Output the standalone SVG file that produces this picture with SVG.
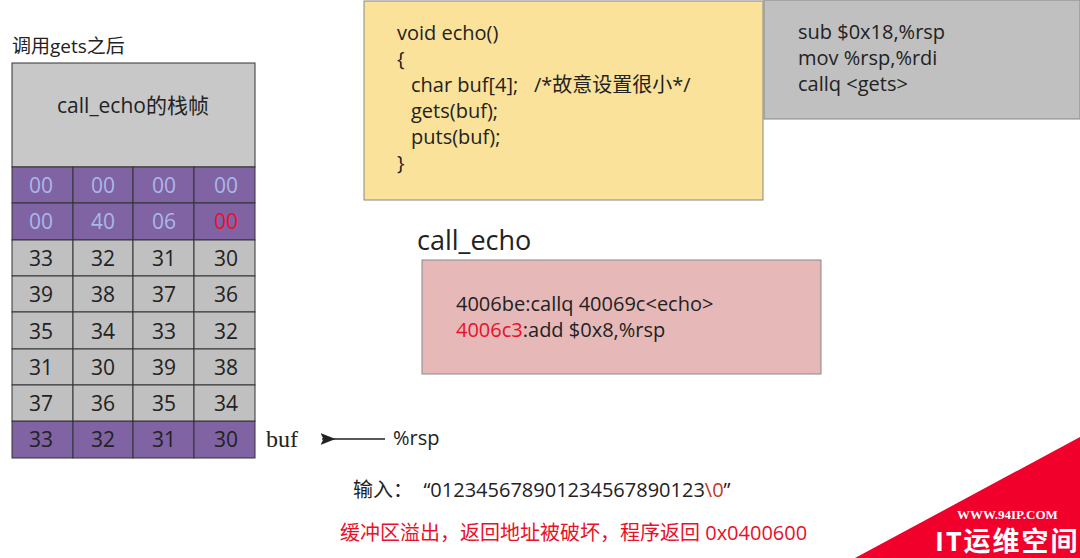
<svg xmlns="http://www.w3.org/2000/svg" width="1080" height="558" viewBox="0 0 1080 558">
<style>
text{font-family:"Open Sans","Noto Sans CJK SC",sans-serif;fill:#222}
.c{font-size:21px;text-anchor:middle}
.lb{fill:#a9b8e8}
.g rect{fill:#c0c0c0;stroke:#333;stroke-width:1}
.p rect{fill:#8063a3;stroke:#333;stroke-width:1}
.code{font-size:20px}
</style>
<defs><marker id="ah" markerWidth="10" markerHeight="8" refX="9" refY="4" orient="auto"><path d="M0,4L10,0L8,4L10,8Z" fill="#222"/></marker></defs>
<rect width="1080" height="558" fill="#fff"/>
<text x="12" y="53" font-size="19">调用gets之后</text>
<g id="frame"><rect x="12" y="63" width="243" height="104" fill="#c8c8c8" stroke="#333"/><text x="133" y="113" font-size="21" text-anchor="middle">call_echo的栈帧</text></g>
<g id="stack">
<g class="p">
<rect x="12" y="167" width="61" height="36"/><rect x="73" y="167" width="60" height="36"/><rect x="133" y="167" width="61" height="36"/><rect x="194" y="167" width="61" height="36"/>
<rect x="12" y="203" width="61" height="37"/><rect x="73" y="203" width="60" height="37"/><rect x="133" y="203" width="61" height="37"/><rect x="194" y="203" width="61" height="37"/>
<rect x="12" y="421" width="61" height="37"/><rect x="73" y="421" width="60" height="37"/><rect x="133" y="421" width="61" height="37"/><rect x="194" y="421" width="61" height="37"/>
</g>
<g class="g">
<rect x="12" y="240" width="61" height="36"/><rect x="73" y="240" width="60" height="36"/><rect x="133" y="240" width="61" height="36"/><rect x="194" y="240" width="61" height="36"/>
<rect x="12" y="276" width="61" height="36"/><rect x="73" y="276" width="60" height="36"/><rect x="133" y="276" width="61" height="36"/><rect x="194" y="276" width="61" height="36"/>
<rect x="12" y="312" width="61" height="37"/><rect x="73" y="312" width="60" height="37"/><rect x="133" y="312" width="61" height="37"/><rect x="194" y="312" width="61" height="37"/>
<rect x="12" y="349" width="61" height="36"/><rect x="73" y="349" width="60" height="36"/><rect x="133" y="349" width="61" height="36"/><rect x="194" y="349" width="61" height="36"/>
<rect x="12" y="385" width="61" height="36"/><rect x="73" y="385" width="60" height="36"/><rect x="133" y="385" width="61" height="36"/><rect x="194" y="385" width="61" height="36"/>
</g>
<text class="c lb" x="41" y="193">00</text><text class="c lb" x="103" y="193">00</text><text class="c lb" x="164" y="193">00</text><text class="c lb" x="226" y="193">00</text>
<text class="c lb" x="41" y="229">00</text><text class="c lb" x="103" y="229">40</text><text class="c lb" x="164" y="229">06</text><text class="c" x="226" y="229" style="fill:#e8102a">00</text>
<text class="c" x="41" y="266">33</text><text class="c" x="103" y="266">32</text><text class="c" x="164" y="266">31</text><text class="c" x="226" y="266">30</text>
<text class="c" x="41" y="302">39</text><text class="c" x="103" y="302">38</text><text class="c" x="164" y="302">37</text><text class="c" x="226" y="302">36</text>
<text class="c" x="41" y="339">35</text><text class="c" x="103" y="339">34</text><text class="c" x="164" y="339">33</text><text class="c" x="226" y="339">32</text>
<text class="c" x="41" y="375">31</text><text class="c" x="103" y="375">30</text><text class="c" x="164" y="375">39</text><text class="c" x="226" y="375">38</text>
<text class="c" x="41" y="411">37</text><text class="c" x="103" y="411">36</text><text class="c" x="164" y="411">35</text><text class="c" x="226" y="411">34</text>
<text class="c" x="41" y="447">33</text><text class="c" x="103" y="447">32</text><text class="c" x="164" y="447">31</text><text class="c" x="226" y="447">30</text>
</g>
<text x="266" y="447" font-size="24" style="font-family:'Liberation Serif',serif">buf</text>
<g id="connectors"><line x1="385" y1="439" x2="322" y2="439" stroke="#222" stroke-width="1.5" marker-end="url(#ah)"/></g>
<text x="393" y="445" font-size="20">%rsp</text>
<g id="code"><rect x="364" y="1" width="399" height="199" fill="#fbe29a" stroke="#888"/>
<text class="code" x="397" y="40">void echo()</text><text class="code" x="397" y="66">{</text>
<text class="code" x="411" y="92" xml:space="preserve">char buf[4];   /*故意设置很小*/</text>
<text class="code" x="411" y="118">gets(buf);</text><text class="code" x="411" y="144">puts(buf);</text>
<text class="code" x="397" y="170">}</text></g>
<g id="asm"><rect x="764" y="0" width="316" height="119" fill="#c0c0c0" stroke="#888"/>
<text class="code" x="798" y="39">sub $0x18,%rsp</text><text class="code" x="798" y="65">mov %rsp,%rdi</text><text class="code" x="798" y="91">callq &lt;gets&gt;</text></g>
<text x="417" y="250" font-size="27">call_echo</text>
<g id="callecho"><rect x="422" y="260" width="399" height="114" fill="#e6b9b8" stroke="#888"/>
<text class="code" x="456" y="311">4006be:callq 40069c&lt;echo&gt;</text>
<text class="code" x="456" y="337"><tspan style="fill:#e8102a">4006c3</tspan>:add $0x8,%rsp</text></g>
<text x="353" y="497" font-size="20" xml:space="preserve">输入：  “012345678901234567890123<tspan style="fill:#c0392b">\0</tspan>”</text>
<text x="340" y="540" font-size="20" style="fill:#e8102a">缓冲区溢出，返回地址被破坏，程序返回 0x0400600</text>
<polygon points="855,558 1080,437 1080,558" fill="#f0002a"/>
<text x="957" y="519" font-size="13" font-weight="bold" style="fill:#fff;font-family:'Liberation Serif',serif">WWW.94IP.COM</text>
<text x="935" y="551" font-size="27" font-weight="bold" letter-spacing="2" style="fill:#fff">IT运维空间</text>
</svg>
